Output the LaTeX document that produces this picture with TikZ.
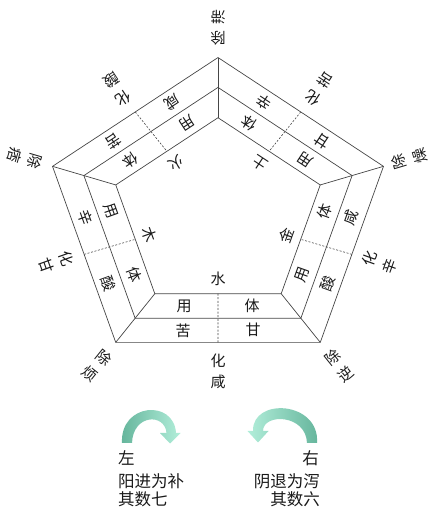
\documentclass[tikz,border=0pt]{standalone}
\usepackage{fontspec}
\setmainfont{Noto Sans CJK SC}
\usetikzlibrary{calc}
\definecolor{inkline}{RGB}{70,70,70}
\definecolor{tealdark}{RGB}{100,180,155}
\definecolor{teallight}{RGB}{178,238,218}
\begin{document}
\begin{tikzpicture}[x=1pt,y=1pt,
  edge/.style={draw=inkline, line width=0.7pt, line join=miter},
  divider/.style={draw=inkline, line width=0.6pt, dash pattern=on 2pt off 1.6pt},
  band/.style={inner sep=0pt, text=black!90, font=\fontsize{15}{15}\selectfont},
  outer/.style={inner sep=0pt, align=center, text=black!90, font=\fontsize{15}{21}\selectfont},
  note/.style={inner sep=0pt, text=black!90, font=\fontsize{16.5}{16.5}\selectfont},
]
\useasboundingbox (0,0) rectangle (429,512);
\coordinate (C) at (218,297);

% vertices of the three pentagons and the centre lines of the two bands
\begin{scope}[shift={(218,297)}, yscale=0.905]
  \foreach \i/\a in {1/90,2/162,3/234,4/306,5/18}{
    \coordinate (O\i) at (\a:174);
    \coordinate (M\i) at (\a:141);
    \coordinate (I\i) at (\a:107.5);
    \coordinate (A\i) at (\a:124.25);
    \coordinate (B\i) at (\a:157.5);
  }
\end{scope}

% pentagons, spokes and band dividers
\draw[edge] (O1)--(O2)--(O3)--(O4)--(O5)--cycle;
\draw[edge] (M1)--(M2)--(M3)--(M4)--(M5)--cycle;
\draw[edge] (I1)--(I2)--(I3)--(I4)--(I5)--cycle;
\foreach \i in {1,...,5} \draw[edge] (O\i)--(I\i);
\foreach \i/\j in {1/2,2/3,3/4,4/5,5/1}
  \draw[divider] ($(O\i)!.5!(O\j)$) -- ($(I\i)!.5!(I\j)$);

% side texts: element, two bands, and the combined flavour outside
\foreach \i/\j/\r/\ai/\aj/\bi/\bj/\e/\h in {
    1/2/213.3/用/体/咸/苦/火/酸,
    2/3/-70.3/用/体/辛/酸/木/甘,
    3/4/0/用/体/苦/甘/水/咸,
    4/5/70.3/用/体/酸/咸/金/辛,
    5/1/146.7/用/体/甘/辛/土/苦}{
  \node[band, rotate=\r] (ai\i) at ($($(A\i)!.5!(A\j)$)!34pt!(A\i)$) {\ai};
  \node[band, rotate=\r] (aj\i) at ($($(A\i)!.5!(A\j)$)!34pt!(A\j)$) {\aj};
  \node[band, rotate=\r] (bi\i) at ($($(B\i)!.5!(B\j)$)!35pt!(B\i)$) {\bi};
  \node[band, rotate=\r] (bj\i) at ($($(B\i)!.5!(B\j)$)!35pt!(B\j)$) {\bj};
  \node[band, rotate=\r] (el\i) at ($($(I\i)!.5!(I\j)$)!15pt!(C)$) {\e};
  \node[outer, rotate=\r] (hua\i) at ($($(O\i)!.5!(O\j)$)!-29pt!(C)$) {化\\\h};
}

% corner texts
\foreach \i/\r/\t/\d in {1/180/滞/30,2/253.6/痞/29,3/321.2/烦/30,4/38.8/逆/30,5/106.4/燥/27}
  \node[outer, rotate=\r] (chu\i) at ($(O\i)!-\d pt!(C)$) {除\\\t};

% curved arrows
\shade[left color=tealdark, right color=teallight]
  (122,69) .. controls (120,109) and (174,113) .. (176,79)
  -- (180.5,79) -- (170,68.5) -- (160,79) -- (166.5,79)
  .. controls (165,99) and (133,98) .. (132,69) -- cycle;
\shade[left color=teallight, right color=tealdark]
  (317,69) .. controls (320,111) and (252,115) .. (253,81)
  -- (247.5,81) -- (258,69.5) -- (268.5,81) -- (263,81)
  .. controls (263,99) and (306,98) .. (307,69) -- cycle;

% captions
\node[note, anchor=west] (l1) at (118,54.5) {左};
\node[note, anchor=west] (l2) at (118,30.5) {阳进为补};
\node[note, anchor=west] (l3) at (118,12.5) {其数七};
\node[note, anchor=east] (r1) at (319,53.5) {右};
\node[note, anchor=east] (r2) at (320,30.5) {阴退为泻};
\node[note, anchor=east] (r3) at (320,12.5) {其数六};
\end{tikzpicture}
\end{document}
